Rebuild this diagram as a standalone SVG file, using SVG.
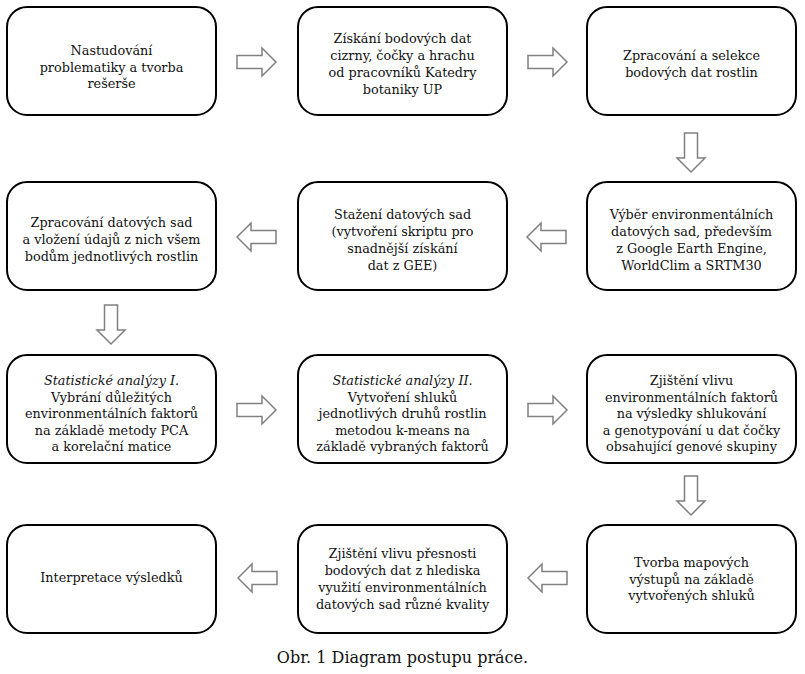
<svg xmlns="http://www.w3.org/2000/svg" width="805" height="674" viewBox="0 0 805 674">
<style>
.box{fill:#fff;stroke:#000;stroke-width:2}
.t{font-family:"DejaVu Serif","Liberation Serif",serif;font-size:12.8px;fill:#111;text-anchor:middle}
.i{font-style:italic}
.cap{font-family:"DejaVu Serif","Liberation Serif",serif;font-size:16px;fill:#111;text-anchor:middle}
.ar{fill:#fff;stroke:#808080;stroke-width:1.5;stroke-linejoin:miter}
</style>
<defs>
<polygon id="ar" class="ar" points="0,-6.5 25,-6.5 25,-14 39,0 25,14 25,6.5 0,6.5"/>
</defs>
<rect width="805" height="674" fill="#fff"/>
<g id="connectors">
<use href="#ar" transform="translate(237,62)"/>
<use href="#ar" transform="translate(528,62)"/>
<use href="#ar" transform="translate(691,133) rotate(90)"/>
<use href="#ar" transform="translate(566,237) rotate(180)"/>
<use href="#ar" transform="translate(276,237) rotate(180)"/>
<use href="#ar" transform="translate(111,305) rotate(90)"/>
<use href="#ar" transform="translate(237,410)"/>
<use href="#ar" transform="translate(528,410)"/>
<use href="#ar" transform="translate(691,476) rotate(90)"/>
<use href="#ar" transform="translate(567,578) rotate(180)"/>
<use href="#ar" transform="translate(277,578) rotate(180)"/>
</g>
<g id="n1"><rect class="box" x="7" y="7" width="209" height="108" rx="20"/>
<text class="t"><tspan x="111.5" y="55">Nastudování</tspan><tspan x="111.5" y="71.5">problematiky a tvorba</tspan><tspan x="111.5" y="88">rešerše</tspan></text></g>
<g id="n2"><rect class="box" x="298" y="7" width="209" height="108" rx="20"/>
<text class="t"><tspan x="402.5" y="43">Získání bodových dat</tspan><tspan x="402.5" y="60">cizrny, čočky a hrachu</tspan><tspan x="402.5" y="77">od pracovníků Katedry</tspan><tspan x="402.5" y="94">botaniky UP</tspan></text></g>
<g id="n3"><rect class="box" x="587" y="7" width="209" height="108" rx="20"/>
<text class="t"><tspan x="691.5" y="60">Zpracování a selekce</tspan><tspan x="691.5" y="77">bodových dat rostlin</tspan></text></g>
<g id="n4"><rect class="box" x="587" y="182" width="209" height="108" rx="20"/>
<text class="t"><tspan x="691.5" y="219">Výběr environmentálních</tspan><tspan x="691.5" y="236">datových sad, především</tspan><tspan x="691.5" y="253">z Google Earth Engine,</tspan><tspan x="691.5" y="270">WorldClim a SRTM30</tspan></text></g>
<g id="n5"><rect class="box" x="298" y="182" width="209" height="108" rx="20"/>
<text class="t"><tspan x="402.5" y="219">Stažení datových sad</tspan><tspan x="402.5" y="236">(vytvoření skriptu pro</tspan><tspan x="402.5" y="253">snadnější získání</tspan><tspan x="402.5" y="270">dat z GEE)</tspan></text></g>
<g id="n6"><rect class="box" x="7" y="182" width="209" height="108" rx="20"/>
<text class="t"><tspan x="111.5" y="227">Zpracování datových sad</tspan><tspan x="111.5" y="244">a vložení údajů z nich všem</tspan><tspan x="111.5" y="261">bodům jednotlivých rostlin</tspan></text></g>
<g id="n7"><rect class="box" x="7" y="355" width="209" height="108" rx="20"/>
<text class="t"><tspan class="i" x="111.5" y="385">Statistické analýzy I.</tspan><tspan x="111.5" y="401.5">Vybrání důležitých</tspan><tspan x="111.5" y="418">environmentálních faktorů</tspan><tspan x="111.5" y="434.5">na základě metody PCA</tspan><tspan x="111.5" y="451">a korelační matice</tspan></text></g>
<g id="n8"><rect class="box" x="298" y="355" width="209" height="108" rx="20"/>
<text class="t"><tspan class="i" x="402.5" y="385">Statistické analýzy II.</tspan><tspan x="402.5" y="401.5">Vytvoření shluků</tspan><tspan x="402.5" y="418">jednotlivých druhů rostlin</tspan><tspan x="402.5" y="434.5">metodou k-means na</tspan><tspan x="402.5" y="451">základě vybraných faktorů</tspan></text></g>
<g id="n9"><rect class="box" x="587" y="355" width="209" height="108" rx="20"/>
<text class="t"><tspan x="691.5" y="385">Zjištění vlivu</tspan><tspan x="691.5" y="401.5">environmentálních faktorů</tspan><tspan x="691.5" y="418">na výsledky shlukování</tspan><tspan x="691.5" y="434.5">a genotypování u dat čočky</tspan><tspan x="691.5" y="451">obsahující genové skupiny</tspan></text></g>
<g id="n10"><rect class="box" x="587" y="525" width="209" height="108" rx="20"/>
<text class="t"><tspan x="691.5" y="567">Tvorba mapových</tspan><tspan x="691.5" y="583.5">výstupů na základě</tspan><tspan x="691.5" y="600">vytvořených shluků</tspan></text></g>
<g id="n11"><rect class="box" x="298" y="525" width="209" height="108" rx="20"/>
<text class="t"><tspan x="402.5" y="558">Zjištění vlivu přesnosti</tspan><tspan x="402.5" y="575">bodových dat z hlediska</tspan><tspan x="402.5" y="592">využití environmentálních</tspan><tspan x="402.5" y="609">datových sad různé kvality</tspan></text></g>
<g id="n12"><rect class="box" x="7" y="525" width="209" height="108" rx="20"/>
<text class="t"><tspan x="111.5" y="582">Interpretace výsledků</tspan></text></g>
<text class="cap" x="402.5" y="663">Obr. 1 Diagram postupu práce.</text>
</svg>
